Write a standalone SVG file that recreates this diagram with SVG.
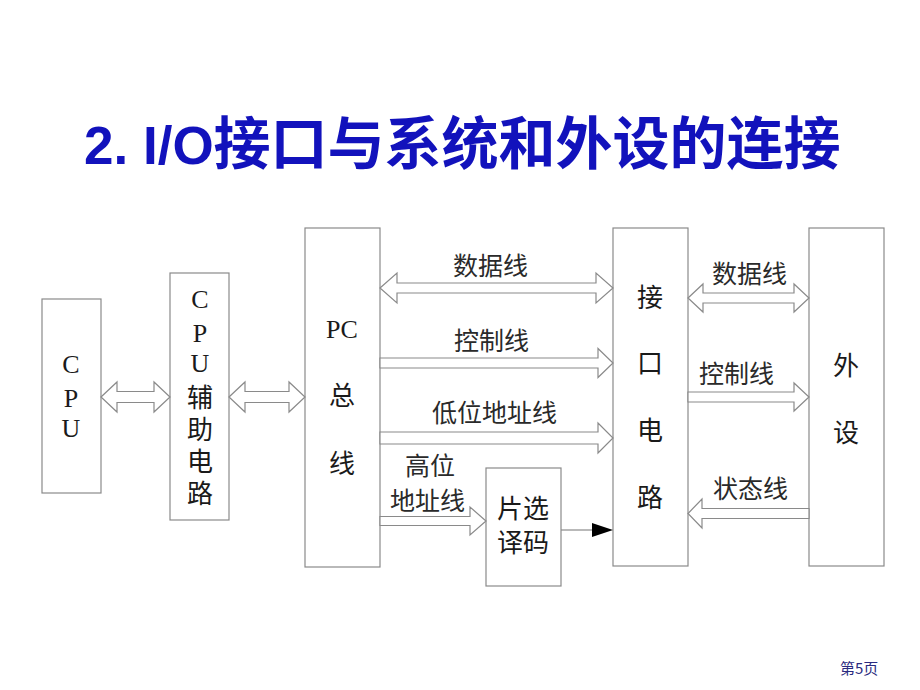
<svg xmlns="http://www.w3.org/2000/svg" width="920" height="690" viewBox="0 0 920 690">
<style>
.box{fill:#fff;stroke:#8a8a8a;stroke-width:1.2}
.arr{fill:#fff;stroke:#8a8a8a;stroke-width:1.2;stroke-linejoin:miter}
.t{font-family:"Liberation Serif","Noto Sans CJK SC",serif;font-size:26px;fill:#1a1a1a;text-anchor:middle}
.lb{font-family:"Liberation Serif","Noto Sans CJK SC",serif;font-size:25px;fill:#2a2a2a}
.title{font-family:"Liberation Sans","Noto Sans CJK SC",sans-serif;font-weight:bold;fill:#1212bc}
</style>
<rect width="920" height="690" fill="#fff"/>
<text class="title" x="84" y="164" font-size="53">2. I/O<tspan font-size="57">接口与系统和外设的连接</tspan></text>

<g id="cpu">
<rect class="box" x="42" y="299" width="59" height="194"/>
<text class="t" x="71" y="373">C</text>
<text class="t" x="71" y="407">P</text>
<text class="t" x="71" y="437">U</text>
</g>
<g id="cpu-aux">
<rect class="box" x="170" y="273" width="59" height="247"/>
<text class="t" x="200" y="308">C</text>
<text class="t" x="200" y="342">P</text>
<text class="t" x="200" y="372">U</text>
<text class="t" x="200" y="407">辅</text>
<text class="t" x="200" y="439">助</text>
<text class="t" x="200" y="471">电</text>
<text class="t" x="200" y="503">路</text>
</g>
<g id="pc-bus">
<rect class="box" x="305" y="228" width="75" height="339"/>
<text class="t" x="342" y="338">PC</text>
<text class="t" x="342" y="405">总</text>
<text class="t" x="342" y="473">线</text>
</g>
<g id="interface">
<rect class="box" x="613" y="228" width="75" height="338"/>
<text class="t" x="650" y="307">接</text>
<text class="t" x="650" y="373">口</text>
<text class="t" x="650" y="440">电</text>
<text class="t" x="650" y="507">路</text>
</g>
<g id="peripheral">
<rect class="box" x="809" y="228" width="75" height="338"/>
<text class="t" x="846" y="375">外</text>
<text class="t" x="846" y="442">设</text>
</g>
<g id="decoder">
<rect class="box" x="486" y="468" width="75" height="118"/>
<text class="t" x="523" y="518">片选</text>
<text class="t" x="523" y="552">译码</text>
</g>

<g id="connectors">
<polygon class="arr" points="101,397 117,382 117,391.5 154,391.5 154,382 170,397 154,412 154,402.5 117,402.5 117,412"/>
<polygon class="arr" points="229,397 245,382 245,391.5 289,391.5 289,382 305,397 289,412 289,402.5 245,402.5 245,412"/>
<polygon class="arr" points="380,288 397,273 397,283 596,283 596,273 613,288 596,303 596,293 397,293 397,303"/>
<polygon class="arr" points="380,358 598,358 598,348.5 613,363 598,377.5 598,368 380,368"/>
<polygon class="arr" points="380,432 598,432 598,423 613,438 598,453 598,444 380,444"/>
<polygon class="arr" points="380,516.5 470,516.5 470,507 486,521 470,535 470,525.5 380,525.5"/>
<line x1="561" y1="530" x2="593" y2="530" stroke="#8a8a8a" stroke-width="1.2"/>
<polygon points="592,523 613,530 592,537" fill="#000"/>
<polygon class="arr" points="688,298 703,284 703,293 794,293 794,284 809,298 794,312 794,303 703,303 703,312"/>
<polygon class="arr" points="688,392 794,392 794,383 809,397 794,411 794,402 688,402"/>
<polygon class="arr" points="809,508.5 702,508.5 702,499 688,513.5 702,528 702,518.5 809,518.5"/>
</g>

<g id="labels">
<text class="lb" x="453" y="275">数据线</text>
<text class="lb" x="454" y="350">控制线</text>
<text class="lb" x="432" y="422">低位地址线</text>
<text class="lb" x="405" y="475">高位</text>
<text class="lb" x="390" y="510">地址线</text>
<text class="lb" x="712" y="283">数据线</text>
<text class="lb" x="699" y="383">控制线</text>
<text class="lb" x="713" y="498">状态线</text>
</g>
<text x="840" y="674" font-family="'Noto Sans CJK SC',sans-serif" font-size="15" fill="#2a2a80">第5页</text>
</svg>
